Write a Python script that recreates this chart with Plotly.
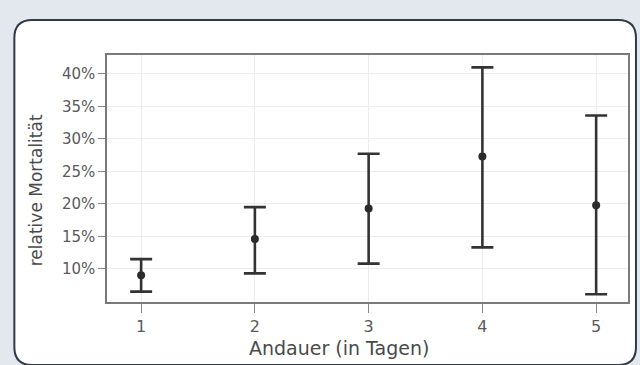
import plotly.graph_objects as go

days = [1, 2, 3, 4, 5]
mortality = [9.0, 14.6, 19.3, 27.3, 19.8]
upper = [11.5, 19.5, 27.7, 41.0, 33.6]
lower = [6.5, 9.3, 10.8, 13.3, 6.1]
y_ticks = [10, 15, 20, 25, 30, 35, 40]
y_tick_labels = ["10%", "15%", "20%", "25%", "30%", "35%", "40%"]
x_ticks = [1, 2, 3, 4, 5]
x_title = "Andauer (in Tagen)"
y_title = "relative Mortalität"

err_plus = [u - m for u, m in zip(upper, mortality)]
err_minus = [m - l for m, l in zip(mortality, lower)]

W, H = 640, 365
L, R, T, B = 107, 10, 55, 63
pw, ph = W - L - R, H - T - B


def px(x):
    return (x - L) / pw


def py(y):
    return (H - B - y) / ph


FONT = "DejaVu Sans, Verdana, sans-serif"

fig = go.Figure()
fig.add_trace(go.Scatter(
    x=days, y=mortality, mode="markers",
    marker=dict(color="#2b2b2b", size=8),
    error_y=dict(type="data", symmetric=False, array=err_plus, arrayminus=err_minus,
                 color="#333333", thickness=2.6, width=11),
    showlegend=False,
))

# rounded white panel
x0, y0, x1, y1, r = 14, 20, 638, 365, 18
path = (
    f"M {px(x0 + r)} {py(y0)} L {px(x1 - r)} {py(y0)} "
    f"Q {px(x1)} {py(y0)} {px(x1)} {py(y0 + r)} "
    f"L {px(x1)} {py(y1 - r)} Q {px(x1)} {py(y1)} {px(x1 - r)} {py(y1)} "
    f"L {px(x0 + r)} {py(y1)} Q {px(x0)} {py(y1)} {px(x0)} {py(y1 - r)} "
    f"L {px(x0)} {py(y0 + r)} Q {px(x0)} {py(y0)} {px(x0 + r)} {py(y0)} Z"
)
fig.add_shape(type="path", path=path, xref="paper", yref="paper",
              line=dict(color="#2f3a48", width=2), fillcolor="white", layer="below")

fig.add_annotation(text=x_title, xref="paper", yref="paper", x=px(340), y=py(348),
                   showarrow=False, xanchor="center", yanchor="middle",
                   font=dict(family=FONT, size=19, color="#4a4a4a"))
fig.add_annotation(text=y_title, xref="paper", yref="paper", x=px(36), y=py(190),
                   showarrow=False, xanchor="center", yanchor="middle", textangle=-90,
                   font=dict(family=FONT, size=17, color="#4a4a4a"))

fig.update_layout(
    width=W, height=H,
    margin=dict(l=L, r=R, t=T, b=B),
    paper_bgcolor="#e2e8ee",
    plot_bgcolor="white",
    font=dict(family=FONT, color="#5a5a5a", size=15),
    xaxis=dict(
        range=[0.7, 5.28], tickvals=x_ticks, ticks="outside", ticklen=9, tickcolor="#888888",
        tickfont=dict(size=16),
        showline=True, linecolor="#7a7a7a", linewidth=1.5, mirror=True,
        showgrid=True, gridcolor="#ededed", zeroline=False,
    ),
    yaxis=dict(
        range=[4.9, 42.9], tickvals=y_ticks, ticktext=y_tick_labels, ticks="outside", ticklen=7,
        tickcolor="#888888",
        showline=True, linecolor="#7a7a7a", linewidth=1.5, mirror=True,
        showgrid=True, gridcolor="#ededed", zeroline=False,
    ),
)

fig.write_html("out.html", config={"displayModeBar": False},
               post_script="document.body.style.margin='0';document.body.style.overflow='hidden';")
